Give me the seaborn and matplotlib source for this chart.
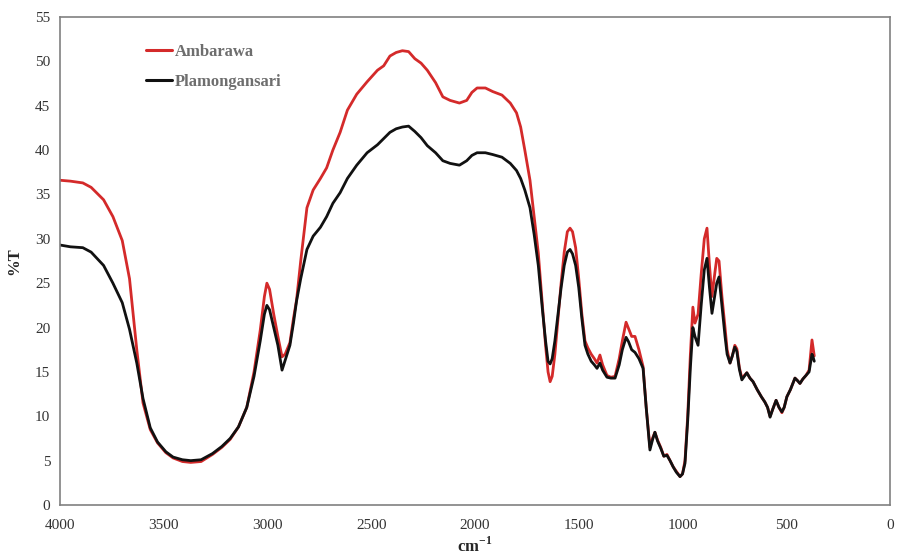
"""FTIR transmittance spectra, Ambarawa vs Plamongansari."""

import matplotlib
matplotlib.use("Agg")
import matplotlib.pyplot as plt
import pandas as pd
import seaborn as sns

# wavenumber (cm-1), shared by both spectra
wavenumber = [
    4000, 3950, 3890, 3850, 3790, 3745, 3700, 3665, 3630, 3600, 3565, 3530,
    3490, 3455, 3410, 3370, 3320, 3265, 3220, 3180, 3140, 3100, 3065, 3035,
    3015, 3003, 2990, 2970, 2950, 2930, 2915, 2892, 2875, 2860, 2840, 2810,
    2780, 2745, 2715, 2685, 2650, 2615, 2570, 2520, 2470, 2440, 2410, 2380,
    2350, 2320, 2290, 2260, 2230, 2190, 2155, 2120, 2075, 2040, 2015, 1990,
    1950, 1915, 1870, 1830, 1800, 1780, 1760, 1735, 1715, 1695, 1675, 1660,
    1648, 1638, 1628, 1615, 1600, 1585, 1570, 1555, 1542, 1530, 1515, 1500,
    1485, 1470, 1456, 1440, 1425, 1412, 1398, 1385, 1364, 1345, 1325, 1305,
    1290, 1272, 1260, 1245, 1229, 1210, 1190, 1175, 1157, 1145, 1133, 1120,
    1105, 1090, 1075, 1060, 1045, 1030, 1012, 1000, 988, 975, 962, 950,
    940, 925, 910, 895, 882, 870, 858, 845, 835, 824, 810, 795,
    785, 771, 760, 748, 738, 726, 714, 702, 690, 675, 660, 640,
    620, 603, 590, 578, 565, 549, 535, 521, 510, 497, 480, 458,
    445, 434, 420, 405, 390, 376, 371, 365,
]

ambarawa = [
    36.6, 36.5, 36.3, 35.8, 34.4, 32.5, 29.8, 25.5, 17.5, 11.5, 8.5, 7.0,
    5.9, 5.3, 4.9, 4.8, 4.9, 5.7, 6.5, 7.4, 8.8, 11.0, 15.0, 19.7,
    23.5, 25.0, 24.3, 21.5, 19.0, 16.7, 17.0, 18.3, 21.0, 23.1, 27.5, 33.5,
    35.5, 36.8, 38.0, 40.0, 42.0, 44.5, 46.3, 47.7, 49.0, 49.5, 50.6, 51.0,
    51.2, 51.1, 50.3, 49.8, 49.0, 47.6, 46.0, 45.6, 45.3, 45.6, 46.5, 47.0,
    47.0, 46.6, 46.2, 45.3, 44.2, 42.6, 40.0, 36.6, 32.5, 28.4, 22.5, 18.0,
    15.0, 13.9, 14.5, 17.0, 21.0, 25.0, 28.5, 30.8, 31.2, 30.8, 29.0, 25.5,
    21.5, 18.5, 17.7, 17.0, 16.5, 16.0, 16.9, 15.8, 14.6, 14.4, 14.5, 16.5,
    18.5, 20.6, 19.9, 19.0, 19.0, 17.5, 15.6, 11.0, 6.5, 7.5, 8.2, 7.3,
    6.5, 5.5, 5.7, 5.0, 4.3, 3.8, 3.2, 3.5, 5.0, 10.0, 17.0, 22.3,
    20.5, 21.5, 26.0, 30.0, 31.2, 27.0, 23.5, 26.0, 27.8, 27.5, 23.5, 20.0,
    17.5, 16.0, 16.8, 18.0, 17.6, 15.5, 14.3, 14.6, 14.9, 14.3, 13.9, 13.0,
    12.2, 11.6, 11.0, 10.0, 10.8, 11.8, 11.0, 10.4, 11.0, 12.2, 13.0, 14.3,
    14.0, 13.7, 14.2, 14.6, 15.2, 18.6, 17.8, 16.8,
]

plamongansari = [
    29.3, 29.1, 29.0, 28.5, 27.0, 25.0, 22.8, 19.8, 16.0, 12.0, 8.7, 7.1,
    6.0, 5.4, 5.1, 5.0, 5.1, 5.8, 6.6, 7.5, 8.8, 11.0, 14.5, 18.5,
    21.5, 22.5, 22.0, 20.0, 18.0, 15.2, 16.3, 18.0, 20.5, 23.0, 25.5, 28.8,
    30.3, 31.3, 32.5, 34.0, 35.2, 36.8, 38.3, 39.7, 40.6, 41.3, 42.0, 42.4,
    42.6, 42.7, 42.1, 41.4, 40.5, 39.7, 38.8, 38.5, 38.3, 38.8, 39.4, 39.7,
    39.7, 39.5, 39.2, 38.5, 37.7, 36.8, 35.5, 33.5, 30.5, 27.0, 22.0, 18.5,
    16.2, 15.9, 16.5, 18.5, 21.5, 24.5, 27.0, 28.5, 28.8, 28.3, 27.0, 24.5,
    21.0, 18.0, 17.0, 16.2, 15.8, 15.4, 16.0, 15.2, 14.4, 14.3, 14.3, 15.8,
    17.5, 18.9, 18.4, 17.5, 17.2, 16.5, 15.4, 11.0, 6.2, 7.3, 8.2, 7.2,
    6.4, 5.5, 5.6, 5.0, 4.3, 3.7, 3.2, 3.5, 4.7, 9.5, 15.5, 20.0,
    19.0, 18.0, 22.5, 26.5, 27.8, 24.5, 21.6, 23.5, 25.0, 25.7, 22.5, 19.0,
    17.0, 16.0, 16.8, 17.8, 17.3, 15.3, 14.1, 14.5, 14.9, 14.3, 13.9, 13.0,
    12.2, 11.6, 11.0, 9.9, 10.8, 11.8, 11.0, 10.5, 11.0, 12.2, 13.0, 14.3,
    14.0, 13.7, 14.2, 14.6, 15.0, 17.0, 16.7, 16.2,
]

series_names = ["Ambarawa", "Plamongansari"]
series_colors = ["#d42a2a", "#111111"]
x_ticks = [4000, 3500, 3000, 2500, 2000, 1500, 1000, 500, 0]
y_ticks = list(range(0, 56, 5))

frame = pd.concat(
    [
        pd.DataFrame({"wavenumber": wavenumber, "T": ambarawa, "sample": "Ambarawa"}),
        pd.DataFrame({"wavenumber": wavenumber, "T": plamongansari, "sample": "Plamongansari"}),
    ],
    ignore_index=True,
)

sns.set_style("white")
plt.rcParams["font.family"] = ["Liberation Serif", "DejaVu Serif"]
plt.rcParams["mathtext.fontset"] = "custom"
plt.rcParams["mathtext.rm"] = "Liberation Serif"
plt.rcParams["mathtext.bf"] = "Liberation Serif:bold"

fig = plt.figure(figsize=(8.97, 5.59), dpi=100)
ax = fig.add_axes([0.0669, 0.0966, 0.9253, 0.873])

sns.lineplot(
    data=frame,
    x="wavenumber",
    y="T",
    hue="sample",
    hue_order=series_names,
    palette=series_colors,
    estimator=None,
    sort=False,
    lw=2.0,
    ax=ax,
)

ax.set_xlim(4000, 0)
ax.set_ylim(0, 55)
ax.set_xticks(x_ticks)
ax.set_yticks(y_ticks)
ax.tick_params(axis="both", direction="out", length=4, width=1, color="#808080",
               labelsize=11, labelcolor="#333333", pad=3)
ax.tick_params(axis="x", pad=6)
for spine in ax.spines.values():
    spine.set_visible(True)
    spine.set_color("#808080")
    spine.set_linewidth(1.2)

ax.set_xlabel("cm$^{\\mathbf{-1}}$", fontsize=12, fontweight="bold", labelpad=3)
ax.set_ylabel("%T", fontsize=12, fontweight="bold", labelpad=9)

leg = ax.legend(
    loc="upper left",
    bbox_to_anchor=(0.085, 0.975),
    frameon=False,
    handlelength=1.6,
    handletextpad=0.15,
    labelspacing=0.8,
    prop={"weight": "bold", "size": 12},
)
for text in leg.get_texts():
    text.set_color("#6e6e6e")
for line in leg.get_lines():
    line.set_linewidth(2.2)

fig.savefig("out.png", dpi=100)
